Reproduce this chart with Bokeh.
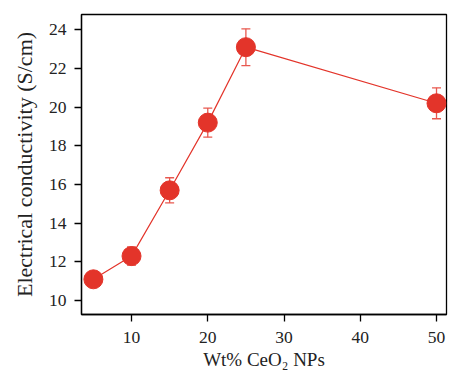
from bokeh.plotting import figure
from bokeh.models import ColumnDataSource, Whisker, Range1d, FixedTicker
from bokeh.embed import file_html
from bokeh.resources import INLINE

wt = [5, 10, 15, 20, 25, 50]
conductivity = [11.1, 12.3, 15.7, 19.2, 23.1, 20.2]
error = [0.3, 0.47, 0.65, 0.75, 0.95, 0.8]
x_ticks = [10, 20, 30, 40, 50]
y_ticks = [10, 12, 14, 16, 18, 20, 22, 24]

src = ColumnDataSource(dict(
    x=wt, y=conductivity,
    upper=[v + e for v, e in zip(conductivity, error)],
    lower=[v - e for v, e in zip(conductivity, error)],
))

FONT = "Liberation Serif"
RED = "#e3342a"

p = figure(width=449, height=374, output_backend="svg", toolbar_location=None,
           x_range=Range1d(3.44, 51.31), y_range=Range1d(9.28, 24.79),
           min_border_left=81, min_border_right=3, min_border_top=14, min_border_bottom=60)

p.line("x", "y", source=src, line_color=RED, line_width=1.2)
w = Whisker(base="x", upper="upper", lower="lower", source=src,
            line_color="#e8584f", line_width=1.3)
w.upper_head.line_color = "#e8584f"
w.lower_head.line_color = "#e8584f"
w.upper_head.size = 9
w.lower_head.size = 9
w.upper_head.line_width = 1.3
w.lower_head.line_width = 1.3
p.add_layout(w)
p.scatter("x", "y", source=src, size=19, fill_color=RED, line_color=RED)

p.xgrid.visible = False
p.ygrid.visible = False
p.outline_line_color = "black"
p.outline_line_width = 1.3
p.outline_line_alpha = 1

p.xaxis.ticker = FixedTicker(ticks=x_ticks)
p.yaxis.ticker = FixedTicker(ticks=y_ticks)
for ax in (p.xaxis, p.yaxis):
    ax.axis_line_color = "black"
    ax.axis_line_width = 1.3
    ax.major_tick_line_color = "black"
    ax.major_tick_line_width = 1.3
    ax.major_tick_out = 7
    ax.major_tick_in = 0
    ax.minor_tick_line_color = None
    ax.major_label_text_font = FONT
    ax.major_label_text_font_size = "17.5px"
    ax.major_label_text_color = "#222222"
    ax.axis_label_text_font = FONT
    ax.axis_label_text_font_style = "normal"
    ax.axis_label_text_color = "#222222"

p.xaxis.axis_label = "Wt% CeO₂ NPs"
p.yaxis.axis_label = "Electrical conductivity (S/cm)"
p.xaxis.axis_label_text_font_size = "19px"
p.yaxis.axis_label_text_font_size = "22px"
p.xaxis.major_label_standoff = 10
p.xaxis.axis_label_standoff = 3
p.yaxis.major_label_standoff = 8
p.yaxis.axis_label_standoff = 9

open("out.html", "w").write(file_html(p, INLINE))
